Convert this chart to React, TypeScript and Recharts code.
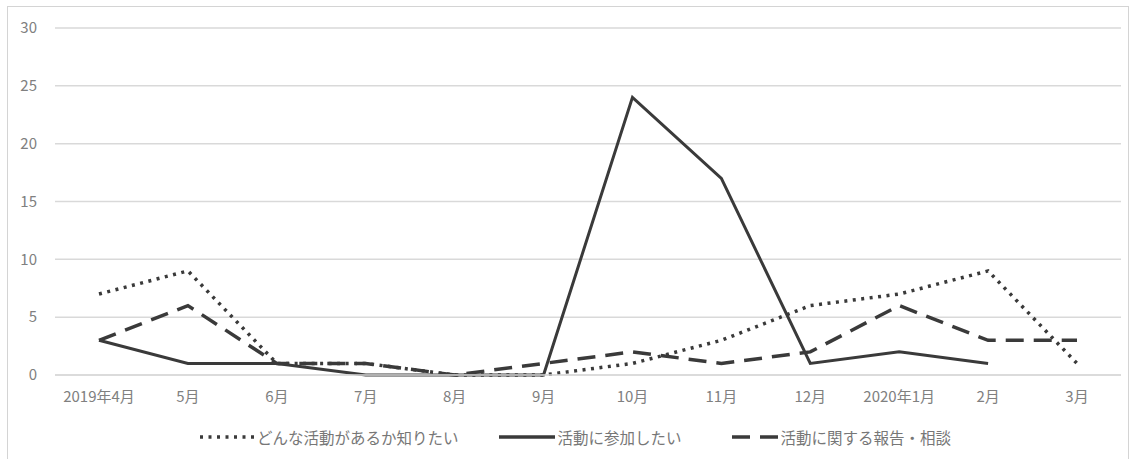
import { CartesianGrid, Legend, Line, LineChart, XAxis, YAxis } from "recharts";

// 月ごとの件数
const months = [
  "2019年4月", "5月", "6月", "7月", "8月", "9月",
  "10月", "11月", "12月", "2020年1月", "2月", "3月",
];
const wantToKnow = [7, 9, 1, 1, 0, 0, 1, 3, 6, 7, 9, 1];
const wantToJoin: (number | null)[] = [3, 1, 1, 0, 0, 0, 24, 17, 1, 2, 1, null];
const reportConsult = [3, 6, 1, 1, 0, 1, 2, 1, 2, 6, 3, 3];
const yTicks = [0, 5, 10, 15, 20, 25, 30];

const seriesInfo = [
  { key: "know", name: "どんな活動があるか知りたい", dash: "3 5.5", iconW: 54, gap: 40 },
  { key: "join", name: "活動に参加したい", dash: undefined, iconW: 56, gap: 50 },
  { key: "report", name: "活動に関する報告・相談", dash: "18 10", iconW: 46, gap: 0 },
];

const data = months.map((m, i) => ({
  month: m,
  know: wantToKnow[i],
  join: wantToJoin[i],
  report: reportConsult[i],
}));

const LINE = "#3a3a3a";
const FONT = "'Noto Sans CJK JP', 'Noto Sans', sans-serif";

function LegendBox() {
  return (
    <div style={{ display: "flex", alignItems: "center", paddingLeft: 190, fontFamily: FONT }}>
      {seriesInfo.map((s) => (
        <div key={s.key} style={{ display: "flex", alignItems: "center", marginRight: s.gap }}>
          <svg width={s.iconW} height={10} style={{ marginRight: 3 }}>
            <line x1={0} y1={5} x2={s.iconW} y2={5} stroke={LINE} strokeWidth={3.5} strokeDasharray={s.dash} />
          </svg>
          <span style={{ fontSize: 15.5, color: "#777" }}>{s.name}</span>
        </div>
      ))}
    </div>
  );
}

export default function App() {
  return (
    <div style={{ position: "absolute", left: 0, top: 0, width: 1134, height: 459, background: "#fff", overflow: "hidden" }}>
      <div style={{ position: "absolute", left: 7, top: 6, width: 1120, height: 470, border: "1px solid #d4d4d4" }} />
      <div style={{ position: "absolute", left: 0, top: 0 }}>
        <LineChart width={1134} height={459} data={data} margin={{ top: 28, right: 13, left: 10, bottom: 24 }}>
          <CartesianGrid vertical={false} stroke="#d9d9d9" strokeWidth={1.5} />
          <XAxis
            dataKey="month"
            axisLine={{ stroke: "#d9d9d9", strokeWidth: 1.5 }}
            tickLine={false}
            height={38}
            padding={{ left: 44, right: 44 }}
            tick={{ fontSize: 15, fill: "#808080", fontFamily: FONT }}
            tickMargin={10}
            interval={0}
          />
          <YAxis
            domain={[0, 30]}
            ticks={yTicks}
            axisLine={false}
            tickLine={false}
            width={45}
            tick={{ fontSize: 15, fill: "#808080", fontFamily: FONT }}
            tickMargin={12}
          />
          <Legend verticalAlign="bottom" wrapperStyle={{ bottom: 11 }} content={() => <LegendBox />} />
          {seriesInfo.map((s) => (
            <Line
              key={s.key}
              dataKey={s.key}
              name={s.name}
              type="linear"
              stroke={LINE}
              strokeWidth={s.key === "join" ? 3 : 3.5}
              strokeDasharray={s.dash}
              dot={false}
              activeDot={false}
              connectNulls={false}
              isAnimationActive={false}
            />
          ))}
        </LineChart>
      </div>
    </div>
  );
}
